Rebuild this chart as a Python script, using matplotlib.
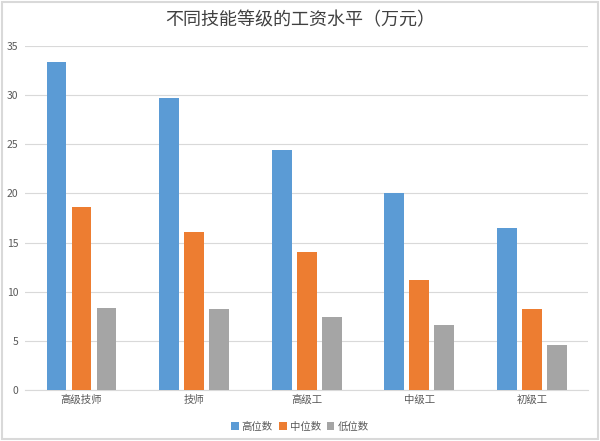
import matplotlib.pyplot as plt
import numpy as np
from matplotlib.patches import Rectangle

plt.rcParams['font.family'] = ['Noto Sans CJK SC', 'DejaVu Sans']

categories = ["高级技师", "技师", "高级工", "中级工", "初级工"]
series_names = ["高位数", "中位数", "低位数"]
high = [33.4, 29.7, 24.4, 20.0, 16.5]
mid = [18.6, 16.1, 14.0, 11.2, 8.2]
low = [8.3, 8.2, 7.4, 6.6, 4.6]
colors = ["#5B9BD5", "#ED7D31", "#A5A5A5"]

fig = plt.figure(figsize=(6, 4.41), dpi=100)
ax = fig.add_axes([0.042, 0.1156, 0.938, 0.78])

x = np.arange(len(categories))
width = 0.177
step = 0.222
for i, (vals, name) in enumerate(zip([high, mid, low], series_names)):
    ax.bar(x + (i - 1) * step, vals, width, color=colors[i], label=name, zorder=3)

ax.set_xlim(-0.5, len(categories) - 0.5)
ax.set_ylim(0, 35)
ax.set_yticks(range(0, 36, 5))
ax.set_xticks(x)
ax.set_xticklabels(categories)
ax.tick_params(axis='both', length=0, labelsize=7.5, colors="#595959")
ax.tick_params(axis='y', pad=5)
ax.grid(axis='y', color="#D9D9D9", linewidth=0.8, zorder=0)
for s in ["top", "right", "left"]:
    ax.spines[s].set_visible(False)
ax.spines["bottom"].set_color("#D9D9D9")

fig.suptitle("不同技能等级的工资水平（万元）", y=0.975, fontsize=13, color="#404040")
fig.legend(loc="lower center", bbox_to_anchor=(0.5, 0.0), ncol=3, frameon=False,
           fontsize=7.5, handlelength=0.7, handleheight=0.7, handletextpad=0.3,
           columnspacing=0.6, labelcolor="#595959")

fig.patches.append(Rectangle((0.003, 0.005), 0.994, 0.99, transform=fig.transFigure,
                             fill=False, edgecolor="#D9D9D9", linewidth=1.5))

plt.savefig("out.png")
